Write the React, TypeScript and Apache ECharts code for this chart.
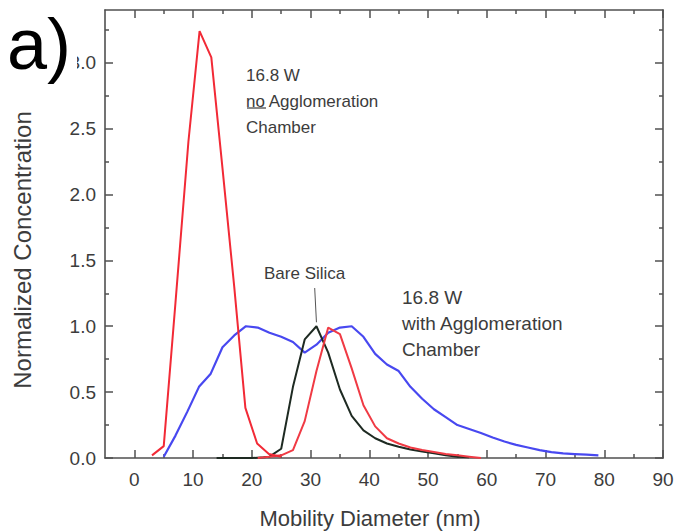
import React, { useEffect, useRef } from "react";
import * as echarts from "echarts";

// Mobility diameter (nm) and normalized concentration
const noAggDiam = [3.0, 5.0, 7.0, 9.2, 11.1, 13.1, 15.0, 17.0, 18.9, 20.9, 22.9, 25.0];
const noAggConc = [0.02, 0.09, 1.18, 2.40, 3.24, 3.04, 2.20, 1.30, 0.38, 0.11, 0.03, 0.01];

const withAggDiam = [5, 7, 9, 11, 13, 15, 17, 19, 21, 23, 25, 27, 29, 31, 33, 35, 37, 39, 41, 43, 45, 47, 49, 51, 53, 55, 57, 59, 61, 63, 65, 67, 69, 71, 73, 75, 77, 79];
const withAggConc = [0.01, 0.17, 0.35, 0.54, 0.64, 0.84, 0.93, 1.0, 0.99, 0.95, 0.92, 0.88, 0.80, 0.86, 0.95, 0.99, 1.0, 0.92, 0.79, 0.71, 0.66, 0.54, 0.45, 0.37, 0.31, 0.25, 0.22, 0.19, 0.155, 0.125, 0.10, 0.08, 0.06, 0.045, 0.035, 0.03, 0.025, 0.02];

const silicaDiam = [14, 16, 18, 20, 22, 23, 25, 27, 29, 31, 33, 35, 37, 39, 41, 43, 45, 47, 49, 51, 53, 55, 57];
const silicaConc = [0, 0, 0, 0, 0.005, 0.01, 0.07, 0.54, 0.90, 1.0, 0.80, 0.52, 0.32, 0.21, 0.15, 0.11, 0.085, 0.065, 0.05, 0.035, 0.02, 0.01, 0.005];

const secondRedDiam = [21, 23, 25, 27, 29, 31, 33, 35, 37, 39, 41, 43, 45, 47, 49, 51, 53, 55, 57, 59];
const secondRedConc = [0.0, 0.01, 0.02, 0.06, 0.28, 0.66, 0.99, 0.94, 0.68, 0.40, 0.24, 0.15, 0.11, 0.08, 0.06, 0.045, 0.03, 0.02, 0.01, 0.0];

const xMajorTicks = [0, 10, 20, 30, 40, 50, 60, 70, 80, 90];
const xMinorTicks = [5, 15, 25, 35, 45, 55, 65, 75, 85];
const yMajorTicks = [0, 0.5, 1.0, 1.5, 2.0, 2.5, 3.0];
const yMinorTicks = [0.25, 0.75, 1.25, 1.75, 2.25, 2.75, 3.25];

const xTitle = "Mobility Diameter (nm)";
const yTitle = "Normalized Concentration";

const FONT = "'Liberation Sans', Arial, Helvetica, sans-serif";
const AXIS_COLOR = "#505050";
const TEXT_COLOR = "#3c3c3c";

const zip = (xs: number[], ys: number[]) => xs.map((x, i) => [x, ys[i]]);

export default function App() {
  const ref = useRef<HTMLDivElement>(null);

  useEffect(() => {
    if (!ref.current) return;
    const chart = echarts.init(ref.current, undefined, { renderer: "svg" });
    const lineStyle = { color: AXIS_COLOR, width: 1.6 };
    const tickStyle = { color: AXIS_COLOR, width: 1.5 };
    const xBase = { type: "value" as const, min: -5, max: 90, gridIndex: 0, splitLine: { show: false } };
    const yBase = { type: "value" as const, min: 0, max: 3.4, gridIndex: 0, splitLine: { show: false } };

    chart.setOption({
      animation: false,
      backgroundColor: "#ffffff",
      grid: { left: 105, right: 14, top: 10, bottom: 73, containLabel: false },
      xAxis: [
        {
          ...xBase,
          position: "bottom",
          axisLine: { show: true, onZero: false, lineStyle },
          axisTick: { show: true, inside: true, length: 8, customValues: xMajorTicks, lineStyle: tickStyle },
          axisLabel: { show: true, customValues: xMajorTicks, color: TEXT_COLOR, fontSize: 19, fontFamily: FONT, margin: 12 },
        },
        {
          ...xBase,
          position: "top",
          axisLine: { show: true, onZero: false, lineStyle },
          axisTick: { show: true, inside: true, length: 8, customValues: xMajorTicks, lineStyle: tickStyle },
          axisLabel: { show: false },
        },
        {
          ...xBase,
          position: "bottom",
          axisLine: { show: false, onZero: false },
          axisTick: { show: true, inside: true, length: 4, customValues: xMinorTicks, lineStyle: tickStyle },
          axisLabel: { show: false },
        },
        {
          ...xBase,
          position: "top",
          axisLine: { show: false, onZero: false },
          axisTick: { show: true, inside: true, length: 4, customValues: xMinorTicks, lineStyle: tickStyle },
          axisLabel: { show: false },
        },
      ],
      yAxis: [
        {
          ...yBase,
          position: "left",
          axisLine: { show: true, onZero: false, lineStyle },
          axisTick: { show: true, inside: true, length: 8, customValues: yMajorTicks, lineStyle: tickStyle },
          axisLabel: {
            show: true,
            customValues: yMajorTicks,
            color: TEXT_COLOR,
            fontSize: 19,
            fontFamily: FONT,
            margin: 9,
            formatter: (v: number) => v.toFixed(1),
          },
        },
        {
          ...yBase,
          position: "right",
          axisLine: { show: true, onZero: false, lineStyle },
          axisTick: { show: true, inside: true, length: 8, customValues: yMajorTicks, lineStyle: tickStyle },
          axisLabel: { show: false },
        },
        {
          ...yBase,
          position: "left",
          axisLine: { show: false, onZero: false },
          axisTick: { show: true, inside: true, length: 4, customValues: yMinorTicks, lineStyle: tickStyle },
          axisLabel: { show: false },
        },
        {
          ...yBase,
          position: "right",
          axisLine: { show: false, onZero: false },
          axisTick: { show: true, inside: true, length: 4, customValues: yMinorTicks, lineStyle: tickStyle },
          axisLabel: { show: false },
        },
      ],
      series: [
        {
          name: "16.8 W with Agglomeration Chamber",
          type: "line",
          xAxisIndex: 0,
          yAxisIndex: 0,
          data: zip(withAggDiam, withAggConc),
          showSymbol: false,
          lineStyle: { color: "#4848f0", width: 2.2 },
          z: 2,
        },
        {
          name: "Bare Silica",
          type: "line",
          xAxisIndex: 0,
          yAxisIndex: 0,
          data: zip(silicaDiam, silicaConc),
          showSymbol: false,
          lineStyle: { color: "#1e2a22", width: 2 },
          z: 3,
          markLine: {
            silent: true,
            symbol: ["none", "none"],
            label: { show: false },
            lineStyle: { color: "#555555", width: 1, type: "solid" },
            data: [[{ coord: [30.7, 1.29] }, { coord: [31.0, 1.03] }]],
          },
        },
        {
          name: "Second red",
          type: "line",
          xAxisIndex: 0,
          yAxisIndex: 0,
          data: zip(secondRedDiam, secondRedConc),
          showSymbol: false,
          lineStyle: { color: "#f03a44", width: 2 },
          z: 3,
        },
        {
          name: "16.8 W no Agglomeration Chamber",
          type: "line",
          xAxisIndex: 0,
          yAxisIndex: 0,
          data: zip(noAggDiam, noAggConc),
          showSymbol: false,
          lineStyle: { color: "#f22a36", width: 2 },
          z: 4,
        },
      ],
      graphic: [
        {
          type: "rect",
          shape: { x: 0, y: 14, width: 77, height: 72 },
          style: { fill: "#ffffff" },
          z: 100,
        },
        {
          type: "text",
          x: 7,
          y: 8,
          style: { text: "a)", fontSize: 72, fontFamily: FONT, fill: "#000000" },
          z: 101,
        },
        {
          type: "text",
          x: 22,
          y: 250,
          rotation: Math.PI / 2,
          style: { text: yTitle, fontSize: 24, fontFamily: FONT, fill: TEXT_COLOR, align: "center", verticalAlign: "middle" },
        },
        {
          type: "text",
          x: 370,
          y: 518,
          style: { text: xTitle, fontSize: 22, fontFamily: FONT, fill: TEXT_COLOR, align: "center", verticalAlign: "middle" },
        },
        {
          type: "text",
          x: 246,
          y: 62,
          style: { text: "16.8 W\nno Agglomeration\nChamber", fontSize: 17, lineHeight: 26, fontFamily: FONT, fill: TEXT_COLOR },
        },
        {
          type: "line",
          shape: { x1: 247, y1: 108, x2: 266, y2: 108 },
          style: { stroke: TEXT_COLOR, lineWidth: 1.2 },
        },
        {
          type: "text",
          x: 264,
          y: 265,
          style: { text: "Bare Silica", fontSize: 17, fontFamily: FONT, fill: TEXT_COLOR },
        },
        {
          type: "text",
          x: 402,
          y: 284,
          style: { text: "16.8 W\nwith Agglomeration\nChamber", fontSize: 19, lineHeight: 26, fontFamily: FONT, fill: TEXT_COLOR },
        },
      ],
    });
    return () => chart.dispose();
  }, []);

  return <div ref={ref} style={{ width: 677, height: 531, position: "absolute", left: 0, top: 0 }} />;
}
